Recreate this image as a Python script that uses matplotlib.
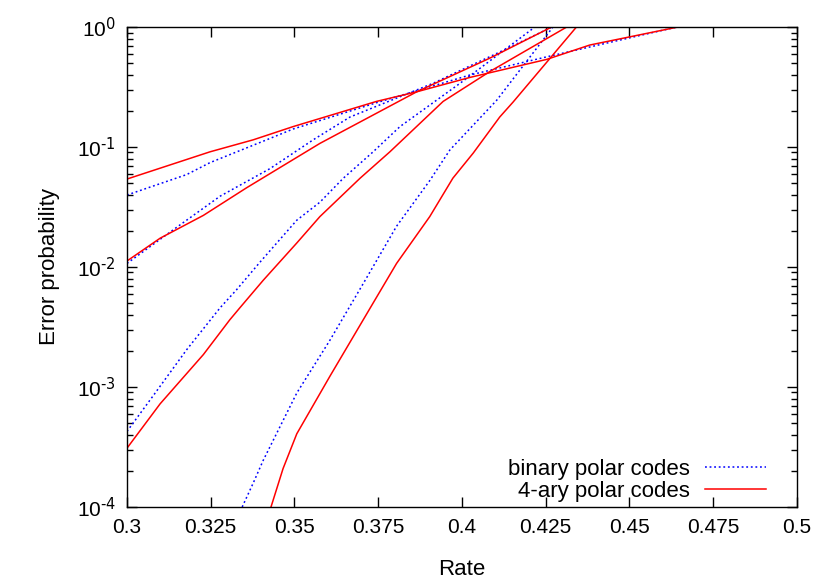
import matplotlib
matplotlib.use("Agg")
import matplotlib.pyplot as plt
from matplotlib import ticker
import numpy as np

plt.rcParams["font.family"] = ["Liberation Sans", "DejaVu Sans"]
plt.rcParams["mathtext.default"] = "regular"

# Rate values and log10(error probability)
# four block lengths, binary (dotted) vs 4-ary (solid)
bin_a_rate = [0.300, 0.3178, 0.3248, 0.3417, 0.3496, 0.3746, 0.4024, 0.4251, 0.4642]
bin_a_log = [-1.40, -1.23, -1.13, -0.94, -0.85, -0.63, -0.40, -0.25, 0.0]
q4_a_rate = [0.300, 0.3248, 0.3377, 0.3496, 0.3745, 0.3865, 0.4024, 0.4253, 0.4382, 0.4645]
q4_a_log = [-1.267, -1.04, -0.94, -0.83, -0.62, -0.54, -0.42, -0.27, -0.15, 0.0]

bin_b_rate = [0.300, 0.3148, 0.3278, 0.3427, 0.3556, 0.3666, 0.3913, 0.4104, 0.4269]
bin_b_log = [-1.97, -1.67, -1.41, -1.18, -0.94, -0.75, -0.47, -0.22, 0.0]
q4_b_rate = [0.300, 0.3099, 0.3228, 0.3357, 0.3576, 0.3865, 0.4083, 0.4268]
q4_b_log = [-1.95, -1.76, -1.57, -1.34, -0.97, -0.54, -0.26, 0.0]

bin_c_rate = [0.300, 0.3079, 0.3178, 0.3278, 0.3327, 0.3397, 0.3507, 0.3576, 0.3646,
              0.3735, 0.3815, 0.3994, 0.4218]
bin_c_log = [-3.37, -3.07, -2.69, -2.34, -2.19, -1.96, -1.61, -1.46, -1.26,
             -1.04, -0.83, -0.47, 0.0]
q4_c_rate = [0.300, 0.3099, 0.3228, 0.3307, 0.3337, 0.3407, 0.3507, 0.3576, 0.3606,
             0.3696, 0.3785, 0.3944, 0.4084, 0.4313]
q4_c_log = [-3.51, -3.14, -2.73, -2.44, -2.34, -2.11, -1.80, -1.58, -1.50,
            -1.26, -1.04, -0.62, -0.37, 0.0]

bin_d_rate = [0.3344, 0.3377, 0.3407, 0.3507, 0.3606, 0.3705, 0.3805, 0.3904, 0.3964,
              0.4104, 0.4272]
bin_d_log = [-4.0, -3.80, -3.61, -3.05, -2.61, -2.14, -1.66, -1.28, -1.025, -0.61, 0.0]
q4_d_rate = [0.343, 0.3466, 0.3507, 0.3606, 0.3735, 0.3805, 0.3904, 0.3973, 0.4034,
             0.4113, 0.4153, 0.4342]
q4_d_log = [-4.0, -3.68, -3.39, -2.91, -2.30, -1.97, -1.58, -1.26, -1.05, -0.75,
            -0.625, 0.0]

binary = [(bin_a_rate, bin_a_log), (bin_b_rate, bin_b_log),
          (bin_c_rate, bin_c_log), (bin_d_rate, bin_d_log)]
quaternary = [(q4_a_rate, q4_a_log), (q4_b_rate, q4_b_log),
              (q4_c_rate, q4_c_log), (q4_d_rate, q4_d_log)]

x_ticks = [0.3, 0.325, 0.35, 0.375, 0.4, 0.425, 0.45, 0.475, 0.5]
x_labels = ["0.3", "0.325", "0.35", "0.375", "0.4", "0.425", "0.45", "0.475", "0.5"]


def log_label(v, pos):
    e = int(round(np.log10(v)))
    return r"$10^{\text{%d}}$" % e


fig = plt.figure(figsize=(8.3, 5.81), dpi=100)
ax = fig.add_axes([0.153, 0.1274, 0.807, 0.8261])

for i, (r, lg) in enumerate(binary):
    ax.plot(r, 10 ** np.array(lg), color="#0000ff", lw=1.1, ls=(0, (1.2, 1.8)),
            label="binary polar codes" if i == 0 else None)
for i, (r, lg) in enumerate(quaternary):
    ax.plot(r, 10 ** np.array(lg), color="#ff0000", lw=1.1,
            label="4-ary polar codes" if i == 0 else None)

ax.set_yscale("log")
ax.set_xlim(0.3, 0.5)
ax.set_ylim(1e-4, 1)
ax.set_xticks(x_ticks)
ax.set_xticklabels(x_labels)
ax.yaxis.set_major_formatter(ticker.FuncFormatter(log_label))
ax.yaxis.set_minor_locator(ticker.LogLocator(base=10, subs=np.arange(2, 10)))
ax.yaxis.set_minor_formatter(ticker.NullFormatter())

ax.tick_params(which="both", direction="in", top=True, right=True,
               labelsize=15, width=1.0)
ax.tick_params(which="major", length=7, pad=8)
ax.tick_params(which="minor", length=4)
for s in ax.spines.values():
    s.set_linewidth(1.0)

ax.set_xlabel("Rate", fontsize=16, labelpad=16)
ax.set_ylabel("Error probability", fontsize=16, labelpad=12)

leg = ax.legend(loc="lower right", frameon=False, markerfirst=False, fontsize=16,
                handlelength=2.75, handletextpad=0.68, labelspacing=0.05,
                borderaxespad=0.0, bbox_to_anchor=(0.967, -0.008))

fig.savefig("out.png", dpi=100)
